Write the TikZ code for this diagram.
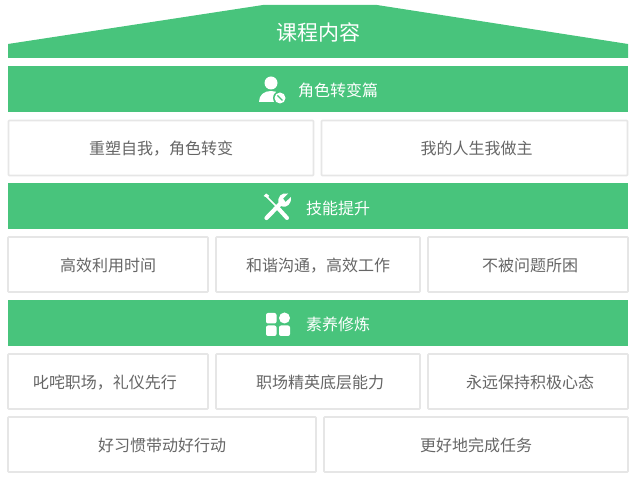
\documentclass[tikz,border=0pt]{standalone}
\usepackage{fontspec}
\setmainfont{Noto Sans CJK SC}
\usetikzlibrary{calc}
\usetikzlibrary{positioning}
\definecolor{barGreen}{HTML}{48C47C}
\definecolor{tileLine}{HTML}{E6E6E6}
\definecolor{tileText}{HTML}{666666}
\tikzset{
    barbox/.style={fill=barGreen, inner sep=0pt, outer sep=0pt, minimum width=620pt, minimum height=46pt},
    bartext/.style={text=white, font=\fontsize{16pt}{16pt}\selectfont, inner sep=0pt},
    tilebox/.style={draw=tileLine, line width=1.6pt, fill=white, rounded corners=0.8pt, text=tileText,
        font=\fontsize{16pt}{16pt}\selectfont, inner sep=0pt, outer sep=0pt, minimum height=55pt,
        text height=14pt, text depth=0pt}
}

\begin{document}
\begin{tikzpicture}[x=1pt,y=-1pt]
\useasboundingbox (0,0) rectangle (635,478);

% Roof with the title
\fill[barGreen] (8,44) -- (263,5) -- (377,5) -- (628,44) -- (628,58) -- (8,58) -- cycle;
\node[text=white, font=\fontsize{21pt}{21pt}\selectfont, inner sep=0pt] (title) at (318,32) {课程内容};

% First part
\node[barbox] (barRole) at (318,89) {};
\node[bartext] (labelRole) at (338,90) {角色转变篇};
\node[tilebox, minimum width=305pt] (tileRoleA) at (161,148) {重塑自我，角色转变};
\node[tilebox, minimum width=306pt] (tileRoleB) at (474.5,148) {\hspace*{4pt}我的人生我做主};

% Person icon
\fill[white] (271,83) circle (6.5);
\fill[white] (259,102) .. controls (259,95) and (264,91) .. (271,91) .. controls (278,91) and (283,95) .. (283,102) -- cycle;
\fill[barGreen] (280,98) circle (7);
\fill[white] (280,98) circle (5.5);
\draw[barGreen, line width=1.3pt] (277.5,95.5) -- (282.5,100.5);

% Second part
\node[barbox] (barSkill) at (318,206) {};
\node[bartext] (labelSkill) at (338,208) {技能提升};
\node[tilebox, minimum width=200pt] (tileSkillA) at (108,264.5) {高效利用时间};
\node[tilebox, minimum width=204pt] (tileSkillB) at (318,264.5) {和谐沟通，高效工作};
\node[tilebox, minimum width=200pt] (tileSkillC) at (528,264.5) {\hspace*{4pt}不被问题所困};

% Tools icon
\draw[white, line width=1.5pt] (266,196) -- (279,209);
\fill[white] (263.5,196) -- (266,193.5) -- (269,195.5) -- (268,198) -- cycle;
\draw[white, line width=4pt, line cap=round] (277,207) -- (287,218);
\draw[white, line width=4.2pt, line cap=round] (266.5,218) -- (281,203);
\fill[white] (279,204) .. controls (276,197) and (282,192) .. (288,193.5) -- (283,198.5) -- (285.5,202) -- (291,197) .. controls (292,203) and (287,209) .. (281,206) -- cycle;

% Third part
\node[barbox] (barHabit) at (318,323) {};
\node[bartext] (labelHabit) at (338,324) {素养修炼};
\node[tilebox, minimum width=200pt] (tileHabitA) at (108,381.5) {\hspace*{-6pt}叱咤职场，礼仪先行};
\node[tilebox, minimum width=204pt] (tileHabitB) at (318,381.5) {\hspace*{4pt}职场精英底层能力};
\node[tilebox, minimum width=200pt] (tileHabitC) at (528,381.5) {\hspace*{4pt}永远保持积极心态};
\node[tilebox, minimum width=308pt] (tileHabitD) at (162,444.5) {好习惯带动好行动};
\node[tilebox, minimum width=304pt] (tileHabitE) at (476,444.5) {更好地完成任务};

% Grid icon
\fill[white, rounded corners=2pt] (266,313) rectangle ++(10.5,10.5);
\fill[white] (284.5,318) circle (5.5);
\fill[white, rounded corners=2pt] (266,325.5) rectangle ++(10.5,10.5);
\fill[white, rounded corners=2pt] (279,325.5) rectangle ++(11,10.5);

\end{tikzpicture}
\end{document}
